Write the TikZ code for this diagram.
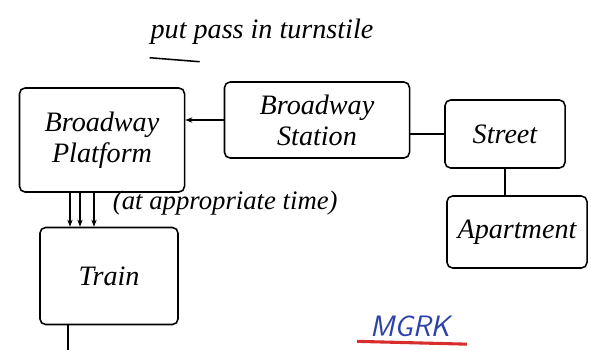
\documentclass[tikz,border=0pt]{standalone}
\usepackage{fontspec}
\setmainfont{Liberation Serif}
\usetikzlibrary{arrows.meta,calc}
\definecolor{inkblue}{RGB}{45,65,170}
\definecolor{inkred}{RGB}{215,45,45}
\begin{document}
\begin{tikzpicture}[x=0.025cm,y=-0.025cm,
  box/.style={draw,line width=1.1pt,rounded corners=4pt,inner sep=0pt,align=center,font=\fontsize{20}{22}\selectfont\itshape},
  conn/.style={line width=1.1pt},
  lbl/.style={font=\fontsize{19}{21}\selectfont\itshape}]
\useasboundingbox (0,0) rectangle (591,350);
\node[box,minimum width=4.125cm,minimum height=2.6cm] (pf) at (102,140) {Broadway\\Platform};
\node[box,minimum width=4.625cm,minimum height=1.9cm] (st) at (317,120) {Broadway\\Station};
\node[box,minimum width=3.0cm,minimum height=1.7cm] (sr) at (505,134) {Street};
\node[box,minimum width=3.5cm,minimum height=1.8cm] (ap) at (517,232) {Apartment};
\node[box,minimum width=3.45cm,minimum height=2.425cm] (tr) at (109,276) {Train};
\node[font=\fontsize{20}{22}\selectfont\itshape] (tt) at (262,32) {put pass in turnstile};
\draw[conn] ([xshift=0.1cm,yshift=-0.2cm]tt.south west) -- ([xshift=1.35cm,yshift=-0.3cm]tt.south west);
\draw[conn,-{Stealth[length=5pt]}] (st.west) -- (pf.east |- st.west);
\draw[conn] (sr.west) -- (sr.west -| st.east);
\draw[conn] (sr.south) -- (sr.south |- ap.north);
\foreach \dx in {-32,-22,-8}
  \draw[conn,-{Stealth[length=5pt]}] ([xshift=\dx*0.025cm]pf.south) -- ([xshift=\dx*0.025cm]pf.south |- tr.north);
\node[lbl,anchor=west] (at) at (108,203) {(at appropriate time)};
\coordinate (bot) at ([xshift=-41*0.025cm]tr.south |- 0,350);
\draw[conn] ([xshift=-41*0.025cm]tr.south) -- (bot);
\node[font=\fontsize{21}{23}\selectfont\sffamily\itshape,text=inkblue] (mg) at (410,326) {MGRK};
\draw[inkred,line width=2.2pt] ([xshift=-0.2cm,yshift=0pt]mg.south west) -- ([xshift=0.3cm,yshift=-2pt]mg.south east);
\end{tikzpicture}
\end{document}
